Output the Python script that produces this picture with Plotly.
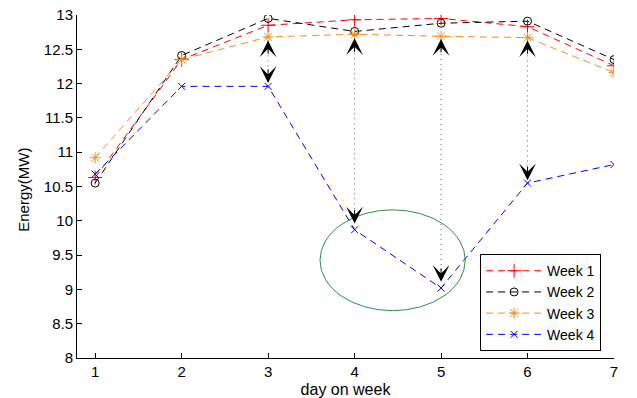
import plotly.graph_objects as go

days = [1, 2, 3, 4, 5, 6, 7]
week1 = [10.63, 12.35, 12.85, 12.93, 12.95, 12.83, 12.26]
week2 = [10.55, 12.41, 12.95, 12.76, 12.88, 12.91, 12.35]
week3 = [10.92, 12.35, 12.68, 12.72, 12.69, 12.67, 12.16]
week4 = [10.68, 11.96, 11.96, 9.87, 9.02, 10.55, 10.82]

# Vertical gap markers between week 3 and week 4
gap_days = [3, 4, 5, 6]
gap_top = [12.63, 12.66, 12.65, 12.63]
gap_bottom = [12.01, 9.96, 9.11, 10.59]

# Highlighted region (ellipse bounds in data units)
ell_x = [3.60, 5.28]
ell_y = [8.69, 10.16]

series = [
    ("Week 1", week1, "#ff0000", "cross-thin", 10),
    ("Week 2", week2, "#000000", "circle-open", 8),
    ("Week 3", week3, "#ef8f1f", "asterisk-open", 9),
    ("Week 4", week4, "#0000ff", "x-thin", 7),
]

FONT = "Liberation Sans, Arial, Helvetica, sans-serif"

fig = go.Figure()

for d, t, b in zip(gap_days, gap_top, gap_bottom):
    fig.add_trace(go.Scatter(
        x=[d, d], y=[t, b], mode="lines",
        line=dict(color="#666666", width=1, dash="1px,4px"),
        showlegend=False, hoverinfo="skip",
    ))

for name, vals, color, sym, size in series:
    fig.add_trace(go.Scatter(
        x=days, y=vals, name=name, mode="lines+markers",
        line=dict(color=color, width=1, dash="7px,5px"),
        marker=dict(symbol=sym, size=size, color=color,
                    line=dict(color=color, width=1)),
    ))

fig.add_shape(type="circle", xref="x", yref="y",
              x0=ell_x[0], x1=ell_x[1], y0=ell_y[0], y1=ell_y[1],
              line=dict(color="#2e8b57", width=1))

for d, t, b in zip(gap_days, gap_top, gap_bottom):
    fig.add_annotation(x=d, y=t, ax=0, ay=15, xref="x", yref="y",
                       showarrow=True, arrowhead=3, arrowsize=2.8,
                       arrowwidth=1, arrowcolor="#000000", text="")
    fig.add_annotation(x=d, y=b, ax=0, ay=-15, xref="x", yref="y",
                       showarrow=True, arrowhead=3, arrowsize=2.8,
                       arrowwidth=1, arrowcolor="#000000", text="")

# Vertical axis title
fig.add_annotation(text="Energy(MW)", xref="paper", yref="paper",
                   x=-0.099, y=0.49, textangle=-90, showarrow=False,
                   xanchor="center", yanchor="middle",
                   font=dict(family=FONT, size=15, color="#000000"))

fig.update_layout(
    width=637, height=398,
    margin=dict(l=77, r=23, t=15, b=40),
    paper_bgcolor="#ffffff", plot_bgcolor="#ffffff",
    font=dict(family=FONT, size=15, color="#000000"),
    showlegend=True,
    legend=dict(
        x=0.976, y=0.02, xanchor="right", yanchor="bottom",
        bgcolor="#ffffff", bordercolor="#000000", borderwidth=1,
        font=dict(family=FONT, size=14),
        itemwidth=56, tracegroupgap=0,
    ),
    xaxis=dict(
        range=[0.79, 7], tickvals=days, ticktext=[str(d) for d in days],
        ticks="inside", ticklen=5, tickcolor="#000000",
        tickfont=dict(size=15), automargin=False,
        showline=True, linecolor="#000000", linewidth=1,
        showgrid=False, zeroline=False,
        title=dict(text="day on week", font=dict(size=16)),
    ),
    yaxis=dict(
        range=[8, 13], dtick=0.5,
        ticks="inside", ticklen=5, tickcolor="#000000",
        tickfont=dict(size=15), automargin=False,
        showline=True, linecolor="#000000", linewidth=1,
        showgrid=False, zeroline=False,
    ),
)

fig.write_html("out.html")
